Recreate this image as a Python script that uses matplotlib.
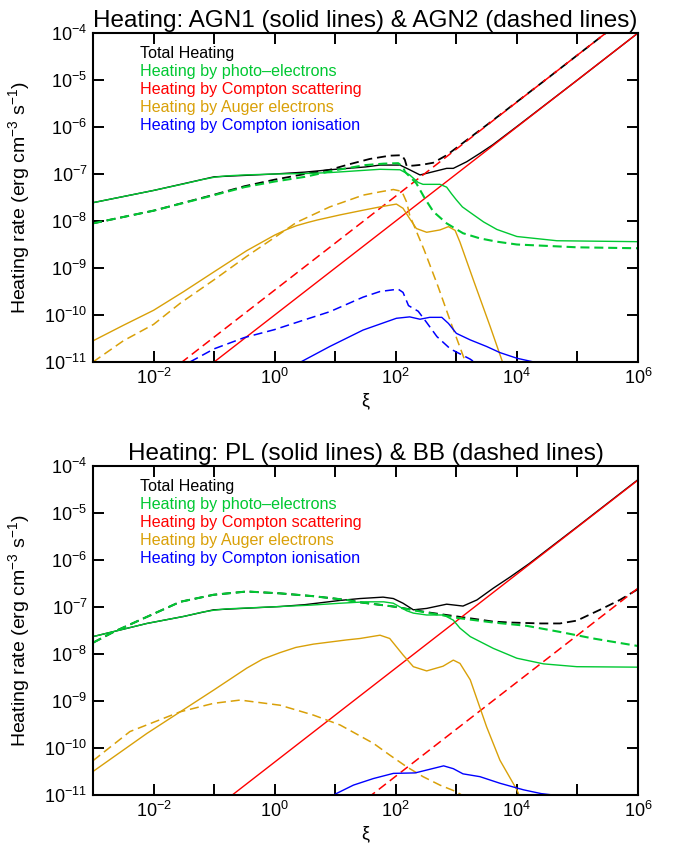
import numpy as np
import matplotlib
matplotlib.use("Agg")
import matplotlib.pyplot as plt
from matplotlib.ticker import FixedLocator, FuncFormatter, NullLocator

plt.rcParams['font.family'] = ['Liberation Sans', 'DejaVu Sans']
plt.rcParams['mathtext.fontset'] = 'custom'
plt.rcParams['mathtext.rm'] = 'Liberation Sans'
plt.rcParams['mathtext.it'] = 'Liberation Sans:italic'
plt.rcParams['mathtext.bf'] = 'Liberation Sans:bold'
plt.rcParams['lines.scale_dashes'] = False

# ---------------- data (log10 xi, log10 heating rate) ----------------
# Top panel: AGN1 (solid) & AGN2 (dashed)
agn1_total_x = [-3, -2, -1, 0, 0.5, 0.91, 1.5, 1.74, 2.07, 2.23, 2.40, 2.56, 2.84, 2.95, 3.17, 3.39, 3.6, 4.0, 5.0, 6.0]
agn1_total_y = [-7.61, -7.35, -7.06, -7.0, -6.96, -6.91, -6.85, -6.81, -6.81, -6.91, -7.02, -6.97, -6.88, -6.88, -6.74, -6.56, -6.38, -5.99, -5.0, -4.0]
agn1_photo_x = [-3, -2.5, -2, -1.5, -1.2, -1, -0.8, -0.5, 0, 0.5, 0.91, 1.5, 1.74, 2.07, 2.23, 2.37, 2.45, 2.73, 2.84, 2.92, 3.0, 3.1, 3.23, 3.45, 3.67, 4.0, 4.66, 6.0]
agn1_photo_y = [-7.61, -7.48, -7.35, -7.21, -7.12, -7.07, -7.04, -7.02, -7.0, -6.99, -6.97, -6.92, -6.90, -6.91, -7.02, -7.18, -7.22, -7.22, -7.28, -7.42, -7.55, -7.70, -7.82, -8.02, -8.18, -8.33, -8.42, -8.44]
agn1_compton_x = [-3, 6]
agn1_compton_y = [-13.0, -4.0]
agn1_auger_x = [-3, -2.5, -2, -1.5, -1, -0.46, 0, 0.2, 0.36, 0.55, 0.7, 1.08, 1.5, 1.74, 2.01, 2.12, 2.23, 2.34, 2.51, 2.73, 2.87, 2.98, 3.06, 3.28, 3.56, 3.76, 3.85]
agn1_auger_y = [-10.55, -10.22, -9.90, -9.50, -9.08, -8.63, -8.30, -8.18, -8.10, -8.03, -7.98, -7.87, -7.76, -7.70, -7.64, -7.73, -7.95, -8.16, -8.24, -8.19, -8.12, -8.20, -8.45, -9.25, -10.25, -10.99, -11.3]
agn1_cion_x = [0.43, 0.91, 1.46, 2.01, 2.23, 2.40, 2.56, 2.76, 2.87, 3.0, 3.23, 3.5, 3.72, 4.0, 4.28, 4.5]
agn1_cion_y = [-11.0, -10.67, -10.32, -10.07, -10.04, -10.09, -10.05, -10.05, -10.18, -10.39, -10.53, -10.67, -10.80, -10.92, -11.0, -11.05]

agn2_total_x = [-3, -2, -1, -0.5, 0, 0.5, 0.91, 1.24, 1.57, 1.9, 2.1, 2.15, 2.18, 2.3, 2.45, 2.62, 2.84, 3.5, 4.5, 5.5, 6.0]
agn2_total_y = [-8.05, -7.78, -7.44, -7.26, -7.12, -7.0, -6.91, -6.79, -6.68, -6.61, -6.60, -6.70, -6.83, -6.82, -6.80, -6.76, -6.60, -5.96, -4.97, -3.97, -3.47]
agn2_photo_x = [-3, -2, -1, -0.5, 0, 0.5, 1.0, 1.5, 1.8, 2.04, 2.12, 2.15, 2.34, 2.48, 2.62, 2.84, 3.11, 3.39, 3.67, 4.0, 5.0, 6.0]
agn2_photo_y = [-8.05, -7.78, -7.45, -7.28, -7.16, -7.06, -6.92, -6.81, -6.78, -6.77, -6.85, -6.95, -7.20, -7.52, -7.80, -8.05, -8.26, -8.37, -8.44, -8.50, -8.56, -8.58]
agn2_compton_x = [-3, 6]
agn2_compton_y = [-12.47, -3.47]
agn2_auger_x = [-3, -2.5, -2, -1.56, -1, -0.46, 0, 0.36, 0.91, 1.46, 1.74, 1.96, 2.10, 2.18, 2.23, 2.36, 2.47, 2.7, 2.92, 3.15, 3.2]
agn2_auger_y = [-11.0, -10.55, -10.2, -9.75, -9.25, -8.75, -8.35, -8.03, -7.70, -7.45, -7.38, -7.33, -7.37, -7.60, -7.88, -8.28, -8.62, -9.4, -10.2, -11.0, -11.2]
agn2_cion_x = [-1.4, -1.0, -0.5, 0.0, 0.5, 0.91, 1.46, 1.74, 2.04, 2.12, 2.21, 2.37, 2.51, 2.68, 2.90, 3.23, 3.35]
agn2_cion_y = [-11.0, -10.72, -10.48, -10.31, -10.1, -9.93, -9.62, -9.50, -9.45, -9.52, -9.80, -9.92, -10.16, -10.46, -10.72, -10.94, -11.05]

# Bottom panel: PL (solid) & BB (dashed)
pl_total_x = [-3, -2.11, -1.5, -1.01, 0.09, 0.5, 1.08, 1.41, 1.79, 1.96, 2.12, 2.29, 2.51, 2.84, 3.11, 3.34, 3.61, 3.89, 4.2, 5.0, 6.0]
pl_total_y = [-7.63, -7.35, -7.20, -7.06, -6.99, -6.95, -6.86, -6.82, -6.79, -6.82, -6.92, -7.06, -7.03, -6.94, -6.98, -6.85, -6.60, -6.36, -6.08, -5.29, -4.29]
pl_photo_x = [-3, -2.11, -1.5, -1.2, -1.01, -0.8, 0.09, 0.6, 1.08, 1.5, 1.8, 1.96, 2.18, 2.29, 2.51, 2.79, 2.95, 3.06, 3.23, 3.61, 4.0, 4.44, 4.99, 6.0]
pl_photo_y = [-7.63, -7.35, -7.20, -7.11, -7.07, -7.04, -6.99, -6.96, -6.92, -6.89, -6.89, -6.92, -7.08, -7.13, -7.17, -7.17, -7.28, -7.45, -7.63, -7.88, -8.09, -8.21, -8.27, -8.28]
pl_compton_x = [-3, 6]
pl_compton_y = [-13.3, -4.3]
pl_auger_x = [-3, -2.11, -1.56, -1.01, -0.46, -0.2, 0.09, 0.35, 0.64, 1.19, 1.41, 1.74, 1.90, 2.12, 2.29, 2.51, 2.78, 2.95, 3.06, 3.23, 3.50, 3.72, 4.0, 4.1]
pl_auger_y = [-10.50, -9.69, -9.23, -8.77, -8.30, -8.11, -7.97, -7.86, -7.79, -7.70, -7.67, -7.60, -7.67, -8.02, -8.27, -8.36, -8.26, -8.13, -8.20, -8.55, -9.55, -10.26, -10.89, -11.2]
pl_cion_x = [0.97, 1.3, 1.63, 1.96, 2.32, 2.79, 2.95, 3.11, 3.39, 3.72, 4.11, 4.4, 4.6]
pl_cion_y = [-11.0, -10.79, -10.65, -10.54, -10.53, -10.38, -10.44, -10.55, -10.61, -10.75, -10.89, -10.97, -11.0]

bb_total_x = [-3, -2.66, -2.11, -1.56, -1.01, -0.46, 0.09, 0.64, 1.19, 1.41, 1.96, 2.51, 3.06, 3.61, 3.89, 4.4, 4.71, 4.99, 5.37, 5.70, 6.0]
bb_total_y = [-7.76, -7.53, -7.21, -6.89, -6.74, -6.67, -6.71, -6.77, -6.85, -6.90, -6.99, -7.11, -7.21, -7.31, -7.33, -7.35, -7.35, -7.29, -7.06, -6.85, -6.62]
bb_photo_x = [-3, -2.66, -2.11, -1.56, -1.01, -0.46, 0.09, 0.64, 1.19, 1.41, 1.96, 2.51, 3.06, 3.61, 4.16, 4.71, 5.26, 6.0]
bb_photo_y = [-7.76, -7.53, -7.21, -6.89, -6.74, -6.67, -6.71, -6.77, -6.85, -6.90, -6.99, -7.12, -7.24, -7.33, -7.40, -7.53, -7.67, -7.83]
bb_compton_x = [-3, 6]
bb_compton_y = [-15.6, -6.6]
bb_auger_x = [-3, -2.39, -1.56, -1.01, -0.57, 0.09, 0.64, 1.08, 1.63, 1.90, 2.18, 2.45, 2.73, 3.0, 3.15]
bb_auger_y = [-10.27, -9.65, -9.23, -9.05, -8.98, -9.09, -9.30, -9.51, -9.90, -10.15, -10.40, -10.61, -10.79, -10.93, -11.05]

titles = ["Heating: AGN1 (solid lines) & AGN2 (dashed lines)",
          "Heating: PL (solid lines) & BB (dashed lines)"]
legend_labels = ["Total Heating", "Heating by photo\u2013electrons", "Heating by Compton scattering",
                 "Heating by Auger electrons", "Heating by Compton ionisation"]
x_tick_exps = list(range(-3, 7))
y_tick_exps = list(range(-11, -3))

# ---------------- style ----------------
C_TOT = '#000000'
C_PHO = '#00c832'
C_COM = '#ff0000'
C_AUG = '#d9a008'
C_ION = '#0000ff'
colors = [C_TOT, C_PHO, C_COM, C_AUG, C_ION]
DASH = (6.5, 3.5)

fig = plt.figure(figsize=(6.76, 8.48), dpi=100)
W, H = 676.0, 848.0
ax1 = fig.add_axes([93 / W, 1 - 362 / H, 545 / W, 329 / H])
ax2 = fig.add_axes([93 / W, 1 - 795 / H, 545 / W, 329 / H])


def P(ax, xs, ys, color, dashed=False, lw=1.0):
    xv = 10.0 ** np.asarray(xs, dtype=float)
    yv = 10.0 ** np.asarray(ys, dtype=float)
    if dashed:
        ax.plot(xv, yv, color=color, lw=lw, dashes=DASH)
    else:
        ax.plot(xv, yv, color=color, lw=lw)


# top panel
P(ax1, agn1_total_x, agn1_total_y, C_TOT)
P(ax1, agn2_total_x, agn2_total_y, C_TOT, True, 1.3)
P(ax1, agn1_compton_x, agn1_compton_y, C_COM)
P(ax1, agn2_compton_x, agn2_compton_y, C_COM, True, 1.1)
P(ax1, agn1_photo_x, agn1_photo_y, C_PHO)
P(ax1, agn2_photo_x, agn2_photo_y, C_PHO, True, 1.5)
P(ax1, agn1_auger_x, agn1_auger_y, C_AUG)
P(ax1, agn2_auger_x, agn2_auger_y, C_AUG, True, 1.1)
P(ax1, agn1_cion_x, agn1_cion_y, C_ION)
P(ax1, agn2_cion_x, agn2_cion_y, C_ION, True, 1.1)

# bottom panel
P(ax2, pl_total_x, pl_total_y, C_TOT)
P(ax2, bb_total_x, bb_total_y, C_TOT, True, 1.3)
P(ax2, pl_compton_x, pl_compton_y, C_COM)
P(ax2, bb_compton_x, bb_compton_y, C_COM, True, 1.1)
P(ax2, pl_photo_x, pl_photo_y, C_PHO)
P(ax2, bb_photo_x, bb_photo_y, C_PHO, True, 1.5)
P(ax2, pl_auger_x, pl_auger_y, C_AUG)
P(ax2, bb_auger_x, bb_auger_y, C_AUG, True, 1.1)
P(ax2, pl_cion_x, pl_cion_y, C_ION)


def xfmt(v, pos):
    e = int(round(np.log10(v)))
    return r'$10^{%d}$' % e if e % 2 == 0 else ''


def yfmt(v, pos):
    e = int(round(np.log10(v)))
    return r'$10^{%d}$' % e


for ax, title in zip([ax1, ax2], titles):
    ax.set_xscale('log')
    ax.set_yscale('log')
    ax.set_xlim(1e-3, 1e6)
    ax.set_ylim(1e-11, 1e-4)
    ax.xaxis.set_major_locator(FixedLocator([10.0 ** e for e in x_tick_exps]))
    ax.yaxis.set_major_locator(FixedLocator([10.0 ** e for e in y_tick_exps]))
    ax.xaxis.set_minor_locator(NullLocator())
    ax.yaxis.set_minor_locator(NullLocator())
    ax.xaxis.set_major_formatter(FuncFormatter(xfmt))
    ax.yaxis.set_major_formatter(FuncFormatter(yfmt))
    ax.tick_params(which='major', direction='in', length=8, width=1.4,
                   top=True, right=True, labelsize=13, pad=4)
    for s in ax.spines.values():
        s.set_linewidth(1.5)
    ax.set_title(title, fontsize=17.5, pad=4)
    ax.set_xlabel('\u03be', fontsize=13)
    ax.xaxis.set_label_coords(0.5, -0.092)
    ax.set_ylabel(r'Heating rate (erg cm$^{-3}$ s$^{-1}$)', fontsize=14)
    ax.yaxis.set_label_coords(-0.112, 0.5)
    for i, (lab, c) in enumerate(zip(legend_labels, colors)):
        ax.text(0.086, 0.939 - i * 0.0547, lab, color=c, fontsize=11.6,
                transform=ax.transAxes, ha='left', va='center')

fig.savefig('out.png', dpi=100)
